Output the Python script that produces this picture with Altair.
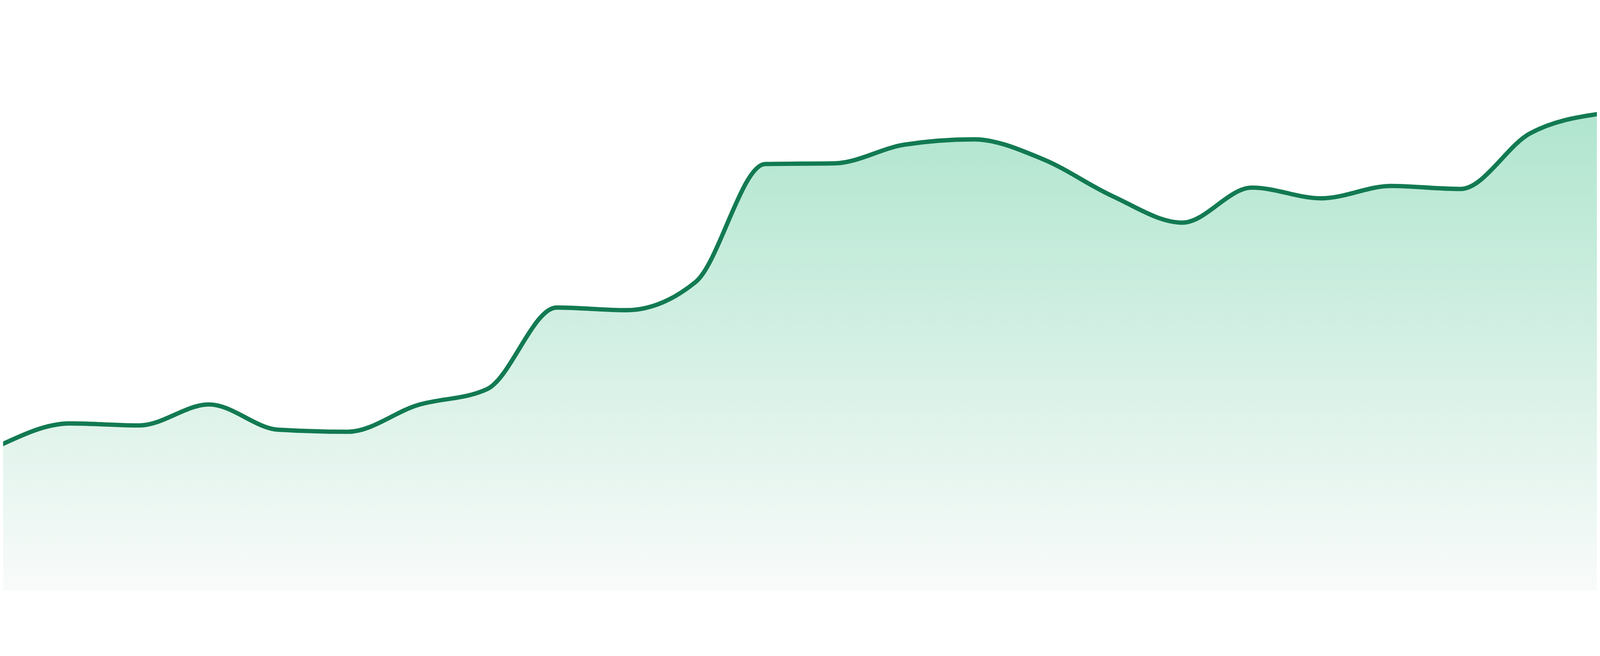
import altair as alt
import pandas as pd

# point index along the x axis (evenly spaced)
idx = list(range(24))
# series values (baseline = 0)
values = [437, 502, 496, 559, 483, 477, 557, 605, 850, 842, 927, 1281,
          1283, 1339, 1355, 1295, 1184, 1105, 1210, 1178, 1215, 1206, 1373, 1432]

df = pd.DataFrame({"i": idx, "v": values})

LINE = "#127a52"
TOP = "#b0e5cf"
BOTTOM = "#f9fbfa"

x = alt.X("i:Q", axis=None,
          scale=alt.Scale(domain=[0.03833, 22.9617], nice=False, zero=False))
y = alt.Y("v:Q", axis=None, scale=alt.Scale(domain=[0, 1624], nice=False, zero=True))

area = alt.Chart(df).mark_area(
    interpolate="monotone",
    color=alt.Gradient(
        gradient="linear",
        stops=[alt.GradientStop(color=TOP, offset=0),
               alt.GradientStop(color=BOTTOM, offset=1)],
        x1=1, x2=1, y1=0, y2=1,
    ),
).encode(x=x, y=y)

line = alt.Chart(df).mark_line(
    interpolate="monotone", color=LINE, strokeWidth=13
).encode(x=x, y=y)

chart = (area + line).properties(
    width=4784, height=1624,
    autosize=alt.AutoSizeParams(type="none"),
    padding=0,
).configure_view(stroke=None)

chart.save("out.html", embed_options={"renderer": "svg", "actions": False})
